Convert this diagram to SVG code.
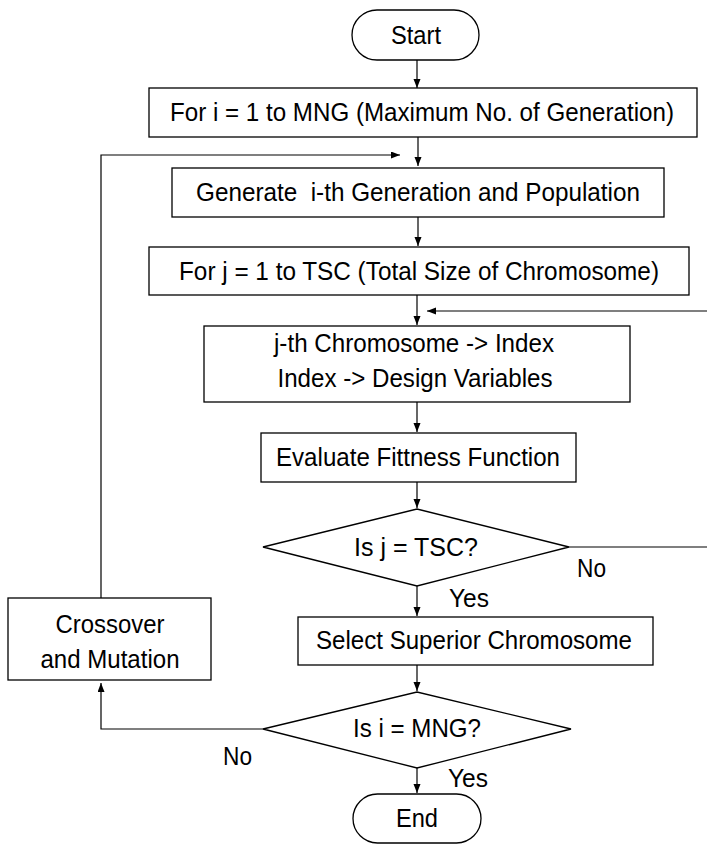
<svg xmlns="http://www.w3.org/2000/svg" width="707" height="844" viewBox="0 0 707 844">
<style>
.box{fill:#fff;stroke:#000;stroke-width:1.3}
.t{font-family:"Liberation Sans",Arial,sans-serif;font-size:26px;fill:#000;text-anchor:middle}
.l{font-family:"Liberation Sans",Arial,sans-serif;font-size:26px;fill:#000}
.c{fill:none;stroke:#000;stroke-width:1.2}
</style>
<defs>
<marker id="ah" markerUnits="userSpaceOnUse" markerWidth="10" markerHeight="8" refX="9" refY="3.5" orient="auto">
<path d="M0,0 L9,3.5 L0,7 z" fill="#000"/>
</marker>
</defs>
<rect width="707" height="844" fill="#fff"/>
<g id="connectors">
<path class="c" d="M417,60 V88" marker-end="url(#ah)"/>
<path class="c" d="M418,137 V166" marker-end="url(#ah)"/>
<path class="c" d="M101,598 V155 H400" marker-end="url(#ah)"/>
<path class="c" d="M418,217 V246" marker-end="url(#ah)"/>
<path class="c" d="M417,295 V325" marker-end="url(#ah)"/>
<path class="c" d="M569,547 H708 V311 H427" marker-end="url(#ah)"/>
<path class="c" d="M417,402 V432" marker-end="url(#ah)"/>
<path class="c" d="M417,482 V508" marker-end="url(#ah)"/>
<path class="c" d="M417,586 V616" marker-end="url(#ah)"/>
<path class="c" d="M417,665 V691" marker-end="url(#ah)"/>
<path class="c" d="M263,729 H101 V683" marker-end="url(#ah)"/>
<path class="c" d="M417,768 V793" marker-end="url(#ah)"/>
</g>
<g id="start">
<rect class="box" x="352" y="10" width="127" height="50" rx="25" ry="25"/>
<text class="t" x="416" y="44" textLength="50" lengthAdjust="spacingAndGlyphs">Start</text>
</g>
<g id="loop-i">
<rect class="box" x="149" y="88" width="548" height="49"/>
<text class="t" x="422" y="121" style="font-size:25px" textLength="504" lengthAdjust="spacingAndGlyphs">For i = 1 to MNG (Maximum No. of Generation)</text>
</g>
<g id="generate">
<rect class="box" x="172" y="168" width="492" height="49"/>
<text class="t" x="418" y="201" xml:space="preserve" textLength="444" lengthAdjust="spacingAndGlyphs">Generate  i-th Generation and Population</text>
</g>
<g id="loop-j">
<rect class="box" x="149" y="247" width="540" height="48"/>
<text class="t" x="419" y="280" textLength="480" lengthAdjust="spacingAndGlyphs">For j = 1 to TSC (Total Size of Chromosome)</text>
</g>
<g id="index">
<rect class="box" x="204" y="326" width="426" height="76"/>
<text class="t" x="414" y="352" textLength="280" lengthAdjust="spacingAndGlyphs">j-th Chromosome -&gt; Index</text>
<text class="t" x="415" y="387" textLength="275" lengthAdjust="spacingAndGlyphs">Index -&gt; Design Variables</text>
</g>
<g id="evaluate">
<rect class="box" x="261" y="433" width="315" height="49"/>
<text class="t" x="418" y="466" textLength="284" lengthAdjust="spacingAndGlyphs">Evaluate Fittness Function</text>
</g>
<g id="check-j">
<path class="box" d="M263,547 L417,509 L569,547 L417,586 Z"/>
<text class="t" x="416" y="556" textLength="124" lengthAdjust="spacingAndGlyphs">Is j = TSC?</text>
<text class="l" x="577" y="577" textLength="29" lengthAdjust="spacingAndGlyphs">No</text>
<text class="l" x="449" y="607" textLength="40" lengthAdjust="spacingAndGlyphs">Yes</text>
</g>
<g id="select">
<rect class="box" x="298" y="617" width="355" height="48"/>
<text class="t" x="474" y="649" textLength="316" lengthAdjust="spacingAndGlyphs">Select Superior Chromosome</text>
</g>
<g id="check-i">
<path class="box" d="M263,729 L417,692 L571,729 L417,768 Z"/>
<text class="t" x="417" y="737" textLength="128" lengthAdjust="spacingAndGlyphs">Is i = MNG?</text>
<text class="l" x="223" y="765" textLength="29" lengthAdjust="spacingAndGlyphs">No</text>
<text class="l" x="448" y="787" textLength="40" lengthAdjust="spacingAndGlyphs">Yes</text>
</g>
<g id="crossover">
<rect class="box" x="8" y="598" width="203" height="82"/>
<text class="t" x="110" y="633" textLength="109" lengthAdjust="spacingAndGlyphs">Crossover</text>
<text class="t" x="110" y="668" textLength="139" lengthAdjust="spacingAndGlyphs">and Mutation</text>
</g>
<g id="end">
<rect class="box" x="353" y="794" width="128" height="49" rx="24.5" ry="24.5"/>
<text class="t" x="417" y="827" textLength="42" lengthAdjust="spacingAndGlyphs">End</text>
</g>
</svg>
